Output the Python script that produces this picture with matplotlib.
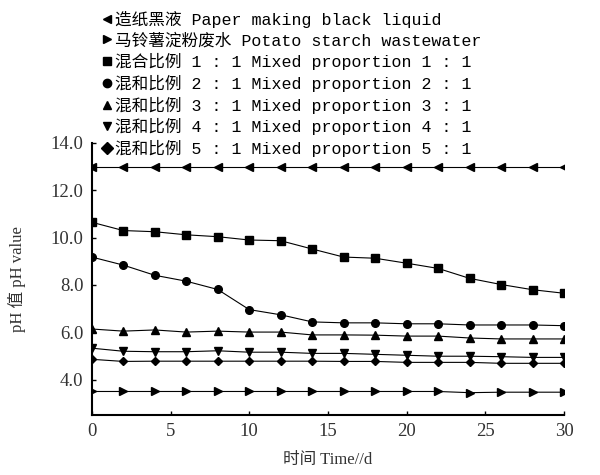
import matplotlib
matplotlib.use("Agg")
import matplotlib.pyplot as plt
from matplotlib.lines import Line2D

plt.rcParams['font.family'] = ['Liberation Serif', 'Noto Sans CJK SC']

# 时间 (d)
days = [0, 2, 4, 6, 8, 10, 12, 14, 16, 18, 20, 22, 24, 26, 28, 30]

# pH 值
paper = [13.0] * 16
potato = [3.5, 3.5, 3.5, 3.5, 3.5, 3.5, 3.5, 3.5, 3.5, 3.5, 3.5, 3.5, 3.45, 3.47, 3.47, 3.47]
mix11 = [10.65, 10.3, 10.25, 10.12, 10.04, 9.9, 9.87, 9.52, 9.18, 9.13, 8.92, 8.7, 8.28, 8.02, 7.8, 7.65]
mix21 = [9.18, 8.84, 8.41, 8.16, 7.81, 6.96, 6.74, 6.44, 6.4, 6.4, 6.36, 6.36, 6.31, 6.31, 6.31, 6.28]
mix31 = [6.14, 6.05, 6.1, 6.01, 6.05, 6.01, 6.01, 5.89, 5.89, 5.88, 5.84, 5.84, 5.76, 5.72, 5.72, 5.72]
mix41 = [5.33, 5.2, 5.18, 5.18, 5.22, 5.16, 5.16, 5.11, 5.11, 5.07, 5.03, 4.99, 4.99, 4.97, 4.94, 4.94]
mix51 = [4.86, 4.77, 4.78, 4.78, 4.78, 4.78, 4.78, 4.78, 4.77, 4.77, 4.73, 4.73, 4.73, 4.69, 4.69, 4.69]

labels = ['造纸黑液 Paper making black liquid',
          '马铃薯淀粉废水 Potato starch wastewater',
          '混合比例 1 : 1 Mixed proportion 1 : 1',
          '混和比例 2 : 1 Mixed proportion 2 : 1',
          '混和比例 3 : 1 Mixed proportion 3 : 1',
          '混和比例 4 : 1 Mixed proportion 4 : 1',
          '混和比例 5 : 1 Mixed proportion 5 : 1']
markers = ['<', '>', 's', 'o', '^', 'v', 'D']
series = [paper, potato, mix11, mix21, mix31, mix41, mix51]

fig = plt.figure(figsize=(6, 4.75), dpi=100)
ax = fig.add_axes([0.153, 0.126, 0.787, 0.573])

for ys, m in zip(series, markers):
    ms = 4.5 if m == 'D' else 5.5
    ax.plot(days, ys, color='k', lw=0.8, marker=m, ms=ms)

ax.set_xlim(0, 30)
ax.set_ylim(2.5, 14.0)
ax.set_xticks([0, 5, 10, 15, 20, 25, 30])
ax.set_yticks([4, 6, 8, 10, 12, 14])
ax.set_yticklabels(['%.1f' % v for v in [4, 6, 8, 10, 12, 14]])
ax.tick_params(direction='in', length=3, width=1, labelsize=13.5, labelcolor='#333333')
ax.tick_params(axis='x', pad=6)
ax.tick_params(axis='y', pad=6)
ax.spines['top'].set_visible(False)
ax.spines['right'].set_visible(False)
ax.spines['left'].set_linewidth(1.5)
ax.spines['bottom'].set_linewidth(1.5)

ax.set_xlabel('时间 Time//d', fontsize=12, color='#333333', labelpad=8)
ax.set_ylabel('pH 值 pH value', fontsize=12, color='#333333', labelpad=18)

handles = [Line2D([], [], color='k', ls='none', marker=m, ms=6) for m in markers]
fig.legend(handles, labels, loc='upper left', bbox_to_anchor=(0.17, 0.977),
           frameon=False, handlelength=0.6, handletextpad=0.2, labelspacing=0.28,
           borderpad=0, borderaxespad=0,
           prop={'family': ['Liberation Mono', 'Noto Sans CJK SC'], 'size': 12})

fig.savefig('out.png', dpi=100)
